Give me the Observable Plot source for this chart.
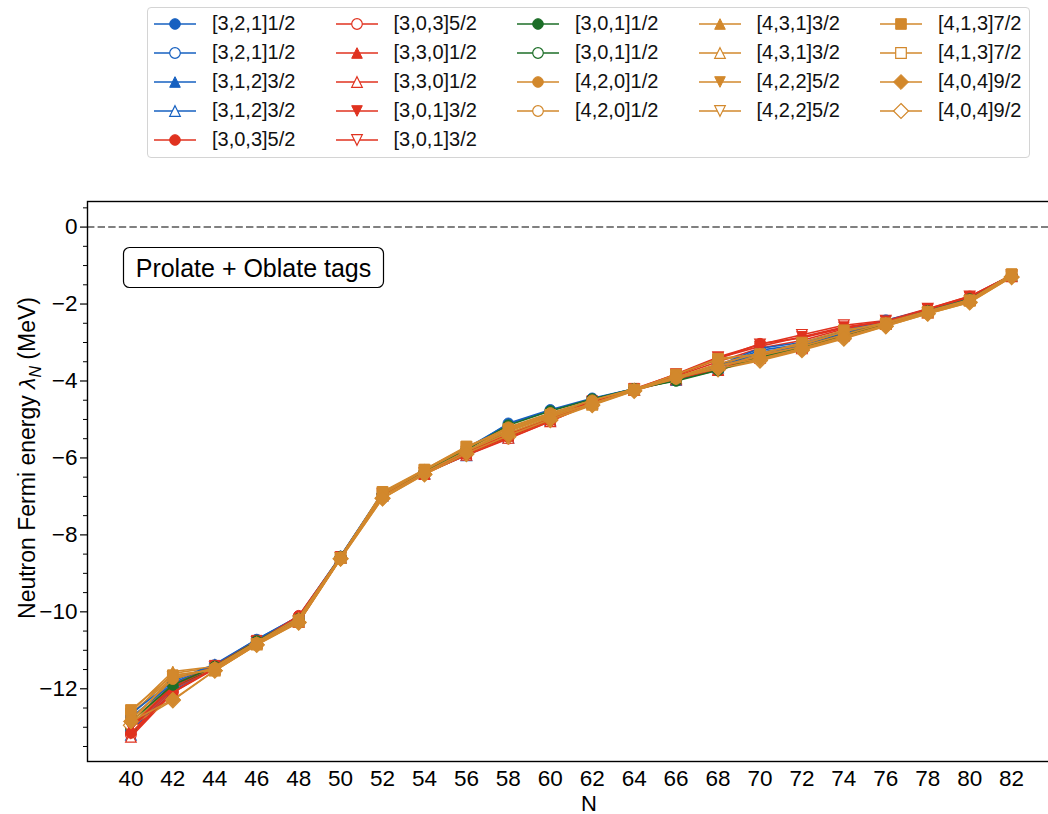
<!DOCTYPE html>
<html>
<head>
<meta charset="utf-8">
<script src="https://cdn.jsdelivr.net/npm/d3@7"></script>
<script src="https://cdn.jsdelivr.net/npm/@observablehq/plot@0.6"></script>
<style>
  html, body { margin: 0; padding: 0; background: #fff; overflow: hidden; width: 1048px; height: 814px; }
  #wrap { position: relative; width: 1048px; height: 814px; font-family: "Liberation Sans", Arial, sans-serif; overflow: hidden; }
  #chart { position: absolute; left: 0; top: 0; width: 1100px; height: 814px; }
  #chart svg { max-width: none !important; }
  #legend { position: absolute; left: 147px; top: 7px; width: 883px; height: 151px; border: 1px solid #d4d4d4;
            border-radius: 4px; background: #fff; box-sizing: border-box; z-index: 2; }
  .item { position: absolute; height: 24px; display: flex; align-items: center; font-size: 20px; color: #111; white-space: nowrap; }
  .item svg { display: block; margin-right: 16px; }
</style>
</head>
<body>
<div id="wrap">
  <div id="chart"></div>
  <div id="legend"></div>
</div>
<script>
// Neutron number N
const N = [40, 42, 44, 46, 48, 50, 52, 54, 56, 58, 60, 62, 64, 66, 68, 70, 72, 74, 76, 78, 80, 82];

// Neutron Fermi energy (MeV) per Nilsson orbital tag; "pro" = prolate (filled), "obl" = oblate (open)
const e321_pro = [-12.75, -11.85, -11.38, -10.72, -10.12, -8.56, -6.92, -6.36, -5.78, -5.10, -4.75, -4.45, -4.20, -3.95, -3.60, -3.15, -3.00, -2.70, -2.42, -2.15, -1.82, -1.25];
const e321_obl = [-13.10, -12.00, -11.45, -10.78, -10.20, -8.58, -6.95, -6.38, -5.92, -5.45, -5.00, -4.55, -4.22, -3.92, -3.62, -3.20, -3.05, -2.72, -2.45, -2.17, -1.85, -1.27];
const e312_pro = [-12.65, -11.80, -11.36, -10.72, -10.12, -8.55, -6.90, -6.33, -5.75, -5.12, -4.77, -4.47, -4.20, -3.97, -3.65, -3.25, -3.10, -2.75, -2.45, -2.15, -1.83, -1.25];
const e312_obl = [-13.20, -12.05, -11.47, -10.80, -10.22, -8.60, -6.98, -6.40, -5.93, -5.47, -5.02, -4.57, -4.23, -3.95, -3.65, -3.30, -3.10, -2.78, -2.48, -2.18, -1.86, -1.27];
const e303_pro = [-13.15, -12.10, -11.45, -10.78, -10.10, -8.57, -6.93, -6.38, -5.90, -5.45, -5.02, -4.55, -4.22, -3.85, -3.42, -3.03, -2.88, -2.62, -2.45, -2.13, -1.80, -1.25];
const e303_obl = [-13.20, -12.08, -11.46, -10.80, -10.20, -8.58, -6.95, -6.40, -5.93, -5.50, -5.05, -4.58, -4.23, -3.88, -3.50, -3.15, -2.95, -2.65, -2.47, -2.15, -1.83, -1.27];
const e330_pro = [-13.05, -11.95, -11.42, -10.77, -10.25, -8.58, -6.95, -6.40, -5.88, -5.42, -5.00, -4.55, -4.22, -3.95, -3.70, -3.35, -3.12, -2.80, -2.50, -2.20, -1.88, -1.27];
const e330_obl = [-13.25, -12.10, -11.48, -10.82, -10.27, -8.60, -6.97, -6.42, -5.92, -5.48, -5.05, -4.58, -4.24, -3.97, -3.72, -3.40, -3.15, -2.82, -2.52, -2.22, -1.90, -1.28];
const e301b_pro = [-13.00, -11.90, -11.40, -10.75, -10.22, -8.57, -6.93, -6.38, -5.85, -5.38, -4.98, -4.52, -4.20, -3.83, -3.40, -3.10, -2.85, -2.60, -2.45, -2.14, -1.82, -1.26];
const e301b_obl = [-13.15, -12.00, -11.44, -10.78, -10.25, -8.59, -6.95, -6.40, -5.90, -5.45, -5.03, -4.55, -4.22, -3.82, -3.38, -3.05, -2.80, -2.55, -2.43, -2.12, -1.80, -1.25];
const e301a_pro = [-12.85, -11.90, -11.42, -10.76, -10.18, -8.57, -6.93, -6.35, -5.78, -5.15, -4.78, -4.47, -4.20, -4.00, -3.72, -3.38, -3.12, -2.80, -2.50, -2.18, -1.87, -1.27];
const e301a_obl = [-13.00, -11.95, -11.45, -10.78, -10.20, -8.58, -6.95, -6.37, -5.85, -5.30, -4.90, -4.52, -4.22, -3.98, -3.70, -3.40, -3.14, -2.82, -2.52, -2.20, -1.88, -1.28];
const e420_pro = [-12.80, -11.75, -11.45, -10.80, -10.20, -8.58, -6.95, -6.33, -5.75, -5.20, -4.83, -4.50, -4.22, -3.95, -3.62, -3.35, -3.10, -2.80, -2.50, -2.20, -1.90, -1.27];
const e420_obl = [-12.95, -11.85, -11.47, -10.82, -10.22, -8.59, -6.97, -6.35, -5.80, -5.30, -4.90, -4.55, -4.23, -3.95, -3.60, -3.30, -3.05, -2.78, -2.52, -2.20, -1.90, -1.28];
const e431_pro = [-12.60, -11.55, -11.42, -10.78, -10.15, -8.56, -6.92, -6.30, -5.72, -5.22, -4.85, -4.50, -4.20, -3.90, -3.55, -3.28, -3.05, -2.72, -2.48, -2.18, -1.88, -1.25];
const e431_obl = [-12.70, -11.60, -11.44, -10.80, -10.18, -8.57, -6.93, -6.32, -5.75, -5.28, -4.90, -4.53, -4.22, -3.92, -3.58, -3.32, -3.08, -2.75, -2.50, -2.20, -1.90, -1.27];
const e422_pro = [-12.90, -11.65, -11.50, -10.83, -10.22, -8.60, -7.00, -6.38, -5.82, -5.35, -4.95, -4.58, -4.25, -3.92, -3.60, -3.42, -3.15, -2.85, -2.55, -2.23, -1.92, -1.28];
const e422_obl = [-13.00, -11.70, -11.50, -10.84, -10.24, -8.60, -7.00, -6.40, -5.85, -5.38, -4.97, -4.60, -4.25, -3.93, -3.62, -3.45, -3.17, -2.87, -2.55, -2.23, -1.93, -1.29];
const e413_pro = [-12.55, -11.65, -11.52, -10.84, -10.25, -8.60, -6.88, -6.30, -5.70, -5.25, -4.88, -4.60, -4.22, -3.83, -3.42, -3.30, -3.00, -2.68, -2.50, -2.20, -1.90, -1.22];
const e413_obl = [-12.65, -11.70, -11.53, -10.85, -10.26, -8.60, -6.90, -6.32, -5.72, -5.30, -4.92, -4.62, -4.23, -3.85, -3.45, -3.32, -3.05, -2.72, -2.52, -2.22, -1.92, -1.24];
const e404_pro = [-12.85, -12.28, -11.52, -10.85, -10.27, -8.62, -7.05, -6.42, -5.88, -5.42, -5.00, -4.62, -4.25, -3.90, -3.68, -3.45, -3.18, -2.88, -2.57, -2.25, -1.95, -1.30];
const e404_obl = [-12.95, -12.30, -11.53, -10.86, -10.28, -8.62, -7.05, -6.43, -5.90, -5.45, -5.02, -4.63, -4.26, -3.92, -3.70, -3.47, -3.20, -2.90, -2.58, -2.25, -1.96, -1.30];

// Tick values
const yMajor = [0, -2, -4, -6, -8, -10, -12];
const yMinor = [0.5, -0.5, -1, -1.5, -2.5, -3, -3.5, -4.5, -5, -5.5, -6.5, -7, -7.5, -8.5, -9, -9.5,
                -10.5, -11, -11.5, -12.5, -13, -13.5];

// Palette per shell
const BLUE = "#1660c0", RED = "#e0321f", GREEN = "#1c6e27", ORANGE = "#d2882c";

// Marker shapes with matplotlib-like geometry: size is the area pi*r^2, ms = 2r
const msOf = size => 2 * Math.sqrt(size / Math.PI);
const SYM = {
  circle: { draw(ctx, size) { const r = msOf(size) / 2; ctx.moveTo(r, 0); ctx.arc(0, 0, r, 0, 2 * Math.PI); } },
  square: { draw(ctx, size) { const h = msOf(size) / 2; ctx.moveTo(-h, -h); ctx.lineTo(h, -h); ctx.lineTo(h, h); ctx.lineTo(-h, h); ctx.closePath(); } },
  up:     { draw(ctx, size) { const h = msOf(size) / 2; ctx.moveTo(0, -h); ctx.lineTo(h, h); ctx.lineTo(-h, h); ctx.closePath(); } },
  down:   { draw(ctx, size) { const h = msOf(size) / 2; ctx.moveTo(0, h); ctx.lineTo(h, -h); ctx.lineTo(-h, -h); ctx.closePath(); } },
  diamond:{ draw(ctx, size) { const h = msOf(size) / Math.SQRT2; ctx.moveTo(0, -h); ctx.lineTo(h, 0); ctx.lineTo(0, h); ctx.lineTo(-h, 0); ctx.closePath(); } }
};

const series = [
  { label: "[3,2,1]1/2", values: e321_pro,  color: BLUE,   symbol: "circle",  open: false },
  { label: "[3,2,1]1/2", values: e321_obl,  color: BLUE,   symbol: "circle",  open: true },
  { label: "[3,1,2]3/2", values: e312_pro,  color: BLUE,   symbol: "up",      open: false },
  { label: "[3,1,2]3/2", values: e312_obl,  color: BLUE,   symbol: "up",      open: true },
  { label: "[3,0,3]5/2", values: e303_pro,  color: RED,    symbol: "circle",  open: false },
  { label: "[3,0,3]5/2", values: e303_obl,  color: RED,    symbol: "circle",  open: true },
  { label: "[3,3,0]1/2", values: e330_pro,  color: RED,    symbol: "up",      open: false },
  { label: "[3,3,0]1/2", values: e330_obl,  color: RED,    symbol: "up",      open: true },
  { label: "[3,0,1]3/2", values: e301b_pro, color: RED,    symbol: "down",    open: false },
  { label: "[3,0,1]3/2", values: e301b_obl, color: RED,    symbol: "down",    open: true },
  { label: "[3,0,1]1/2", values: e301a_pro, color: GREEN,  symbol: "circle",  open: false },
  { label: "[3,0,1]1/2", values: e301a_obl, color: GREEN,  symbol: "circle",  open: true },
  { label: "[4,2,0]1/2", values: e420_pro,  color: ORANGE, symbol: "circle",  open: false },
  { label: "[4,2,0]1/2", values: e420_obl,  color: ORANGE, symbol: "circle",  open: true },
  { label: "[4,3,1]3/2", values: e431_pro,  color: ORANGE, symbol: "up",      open: false },
  { label: "[4,3,1]3/2", values: e431_obl,  color: ORANGE, symbol: "up",      open: true },
  { label: "[4,2,2]5/2", values: e422_pro,  color: ORANGE, symbol: "down",    open: false },
  { label: "[4,2,2]5/2", values: e422_obl,  color: ORANGE, symbol: "down",    open: true },
  { label: "[4,1,3]7/2", values: e413_pro,  color: ORANGE, symbol: "square",  open: false },
  { label: "[4,1,3]7/2", values: e413_obl,  color: ORANGE, symbol: "square",  open: true },
  { label: "[4,0,4]9/2", values: e404_pro,  color: ORANGE, symbol: "diamond", open: false },
  { label: "[4,0,4]9/2", values: e404_obl,  color: ORANGE, symbol: "diamond", open: true }
];

const R = 5.3;
const minus = d => (d < 0 ? "\u2212" + Math.abs(d) : String(d));

const marks = [
  Plot.ruleY([0], { stroke: "#808080", strokeWidth: 2, strokeDasharray: "7.4,3.2" })
];
// oblate (open) curves underneath, prolate (filled) curves on top
const drawOrder = [...series.filter(s => s.open), ...series.filter(s => !s.open)];
for (const s of drawOrder) {
  const rows = N.map((n, i) => ({ n, e: s.values[i] }));
  marks.push(Plot.line(rows, { x: "n", y: "e", stroke: s.color, strokeWidth: 1.6 }));
  marks.push(Plot.dot(rows, {
    x: "n", y: "e", r: R, symbol: SYM[s.symbol],
    fill: s.open ? "white" : s.color, stroke: s.color, strokeWidth: s.open ? 1.2 : 1
  }));
}
marks.push(
  Plot.frame({ stroke: "#000", strokeWidth: 1.4 }),
  Plot.axisX(N, { tickSize: 0, tickPadding: 9, label: null }),
  Plot.axisY(yMajor, { tickSize: 7, tickPadding: 3, tickFormat: minus, label: null, strokeWidth: 1.2 }),
  Plot.axisY(yMinor, { tickSize: 4, tickFormat: () => "", label: null, strokeWidth: 1 })
);

const chart = Plot.plot({
  width: 1100,
  height: 814,
  marginLeft: 87,
  marginRight: 5,
  marginTop: 201,
  marginBottom: 53,
  x: { domain: [37.93, 86.0] },
  y: { domain: [-13.89, 0.665] },
  style: { fontFamily: "Liberation Sans, Arial, sans-serif", fontSize: "22.5px", color: "#000", background: "transparent", maxWidth: "none" },
  marks
});

// Axis titles and the in-plot annotation box
const svg = d3.select(chart);
const ylab = svg.append("text")
  .attr("transform", "translate(27,458) rotate(-90)")
  .attr("text-anchor", "middle")
  .attr("dominant-baseline", "central")
  .style("font-size", "23px")
  .attr("fill", "#000");
ylab.append("tspan").text("Neutron Fermi energy ");
ylab.append("tspan").attr("font-style", "italic").text("\u03bb");
ylab.append("tspan").attr("font-style", "italic").attr("baseline-shift", "sub").style("font-size", "16px").text("N");
ylab.append("tspan").text(" (MeV)");

svg.append("text")
  .attr("x", 589).attr("y", 811)
  .attr("text-anchor", "middle")
  .style("font-size", "22px").attr("fill", "#000")
  .text("N");

svg.append("rect")
  .attr("x", 123.5).attr("y", 247.5).attr("width", 260).attr("height", 40)
  .attr("rx", 6).attr("ry", 6)
  .attr("fill", "white").attr("stroke", "#000").attr("stroke-width", 1.2);
svg.append("text")
  .attr("x", 253.5).attr("y", 268)
  .attr("text-anchor", "middle").attr("dominant-baseline", "central")
  .style("font-size", "25px").attr("fill", "#000")
  .text("Prolate + Oblate tags");

document.getElementById("chart").appendChild(chart);

// Legend: five columns, filled/open pairs stacked
const colStarts = [0, 5, 10, 14, 18];
const legend = d3.select("#legend");
series.forEach((s, i) => {
  let col = 0;
  for (let c = 0; c < colStarts.length; c++) if (i >= colStarts[c]) col = c;
  const row = i - colStarts[col];
  const item = legend.append("div").attr("class", "item")
    .style("left", (6 + col * 181.5) + "px")
    .style("top", (3.5 + row * 29) + "px");
  const sw = item.append("svg").attr("width", 42).attr("height", 24);
  sw.append("line").attr("x1", 0).attr("x2", 42).attr("y1", 12).attr("y2", 12)
    .attr("stroke", s.color).attr("stroke-width", 1.5);
  sw.append("path")
    .attr("transform", "translate(21,12)")
    .attr("d", d3.symbol(SYM[s.symbol], Math.PI * R * R)())
    .attr("fill", s.open ? "white" : s.color)
    .attr("stroke", s.color).attr("stroke-width", s.open ? 1.2 : 1);
  item.append("span").text(s.label);
});
</script>
</body>
</html>
